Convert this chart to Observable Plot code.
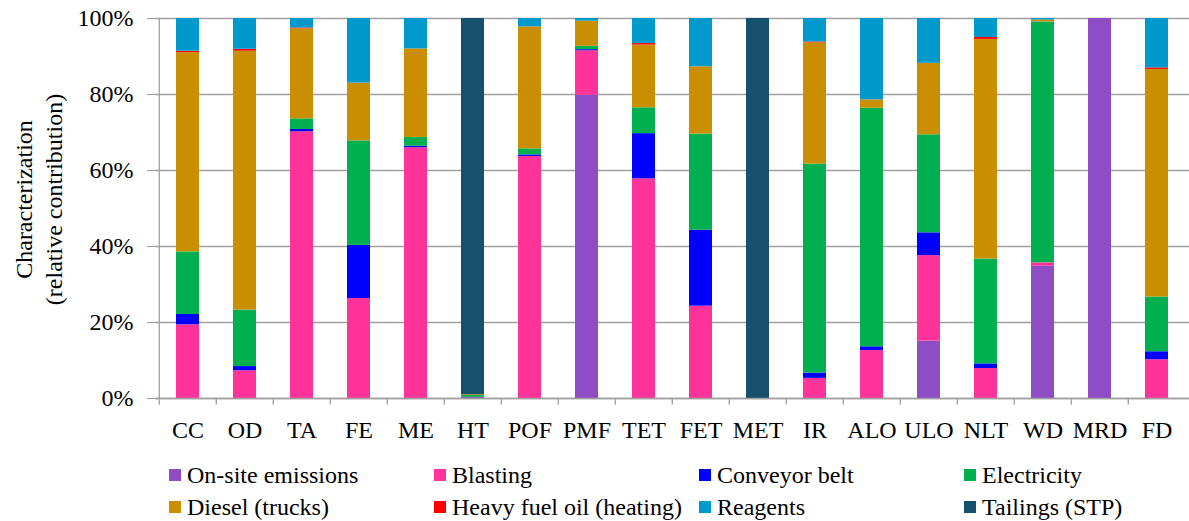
<!DOCTYPE html>
<html><head><meta charset="utf-8">
<script src="https://cdn.jsdelivr.net/npm/d3@7"></script>
<script src="https://cdn.jsdelivr.net/npm/@observablehq/plot@0.6"></script>
<style>
body{margin:0;background:#fff;font-family:"Liberation Serif","Times New Roman",serif;}
#wrap{position:relative;width:1189px;height:521px;background:#fff;}
#wrap svg{display:block;}
.leg{position:absolute;display:flex;align-items:center;height:30px;line-height:30px;font-size:24px;color:#000;white-space:nowrap;font-family:"Liberation Serif","Times New Roman",serif;}
.sw{width:12px;height:12px;margin-right:6px;flex:none;}
</style></head><body><div id="wrap"></div>
<script>
const categories = ["CC","OD","TA","FE","ME","HT","POF","PMF","TET","FET","MET","IR","ALO","ULO","NLT","WD","MRD","FD"];
const seriesNames = ["On-site emissions","Blasting","Conveyor belt","Electricity","Diesel (trucks)","Heavy fuel oil (heating)","Reagents","Tailings (STP)"];
const seriesColors = ["#8E4CC5","#FF3399","#0000FF","#00B050","#CA8E02","#FF0000","#0099CC","#16506D"];

const onSite      = [0,    0,    0,    0,    0,    0.3, 0,    79.8, 0,    0,    0,   0,    0,    15.1, 0,    34.8, 100, 0];
const blasting    = [19.4, 7.3,  70.2, 26.3, 66.0, 0,   63.7, 11.7, 57.8, 24.3, 0,   5.3,  12.6, 22.5, 7.9,  0.9,  0,   10.2];
const conveyor    = [2.7,  1.1,  0.6,  14.0, 0.4,  0,   0.4,  0.3,  11.9, 20.0, 0,   1.4,  1.0,  6.0,  1.2,  0,    0,   2.1];
const electricity = [16.5, 14.9, 2.8,  27.5, 2.3,  0.5, 1.6,  0.9,  6.8,  25.3, 0,   55.0, 62.8, 25.8, 27.6, 63.4, 0,   14.4];
const diesel      = [52.4, 68.1, 23.7, 15.2, 23.3, 0.2, 32.1, 6.6,  16.5, 17.7, 0,   31.9, 2.2,  18.8, 57.8, 0.5,  0,   59.9];
const heavyFuel   = [0.4,  0.5,  0.2,  0,    0,    0,   0,    0,    0.4,  0,    0,   0.2,  0,    0,    0.5,  0,    0,   0.4];
const reagents    = [8.6,  8.1,  2.5,  17.0, 8.0,  0,   2.2,  0.7,  6.6,  12.7, 0,   6.2,  21.4, 11.8, 5.0,  0.4,  0,   13.0];
const tailings    = [0,    0,    0,    0,    0,    99.0,0,    0,    0,    0,    100, 0,    0,    0,    0,    0,    0,   0];
const yTicks = [0, 0.2, 0.4, 0.6, 0.8, 1];

const seriesValues = [onSite, blasting, conveyor, electricity, diesel, heavyFuel, reagents, tailings];
const rows = [];
categories.forEach((c, i) => seriesNames.forEach((s, j) => rows.push({cat: c, series: s, value: seriesValues[j][i]})));

const W = 1189, H = 445, mL = 155, mR = 0, mT = 18, mB = 47;
const step = (W - mL - mR) / categories.length;
const gray = "#a0a0a0";
const font = "'Liberation Serif','Times New Roman',serif";

const chart = Plot.plot({
  width: W, height: H, marginLeft: mL, marginRight: mR, marginTop: mT, marginBottom: mB,
  style: {fontFamily: font, fontSize: "24px", color: "#000", background: "#fff", overflow: "visible"},
  x: {domain: categories, paddingInner: 0.6, paddingOuter: 0.3, label: null},
  y: {domain: [0, 1], label: null},
  color: {domain: seriesNames, range: seriesColors},
  marks: [
    Plot.gridY(yTicks, {stroke: gray, strokeOpacity: 1, strokeWidth: 1.3}),
    Plot.barY(rows, Plot.stackY({offset: "normalize", order: seriesNames}, {x: "cat", y: "value", fill: "series", z: "series"})),
    Plot.ruleY([0], {stroke: gray, strokeWidth: 1.3}),
    Plot.ruleX([categories[0]], {dx: -step / 2, stroke: gray, strokeWidth: 1.3}),
    Plot.ruleX(categories, {dx: -step / 2, y1: 0, y2: -0.018, stroke: gray, strokeWidth: 1.3}),
    Plot.axisY({ticks: yTicks, tickFormat: d3.format(".0%"), tickSize: 8, tickPadding: 14, stroke: gray, fontSize: 24}),
    Plot.axisX({tickSize: 0, tickPadding: 22, fontSize: 24}),
    Plot.text(["Characterization\n(relative contribution)"], {text: d => d, frameAnchor: "left", textAnchor: "middle", lineAnchor: "middle", rotate: -90, dx: -118, dy: -9, lineHeight: 1.25, fontSize: 24})
  ]
});

const wrap = document.getElementById("wrap");
wrap.appendChild(chart);

const legendRows = [seriesNames.slice(0, 4), seriesNames.slice(4, 8)];
legendRows.forEach((row, r) => row.forEach((name, c) => {
  const el = document.createElement("div");
  el.className = "leg";
  el.style.left = (169 + c * 265) + "px";
  el.style.top = (460 + r * 32) + "px";
  const sw = document.createElement("div");
  sw.className = "sw";
  sw.style.background = seriesColors[seriesNames.indexOf(name)];
  el.appendChild(sw);
  el.appendChild(document.createTextNode(name));
  wrap.appendChild(el);
}));
</script>
</body></html>
